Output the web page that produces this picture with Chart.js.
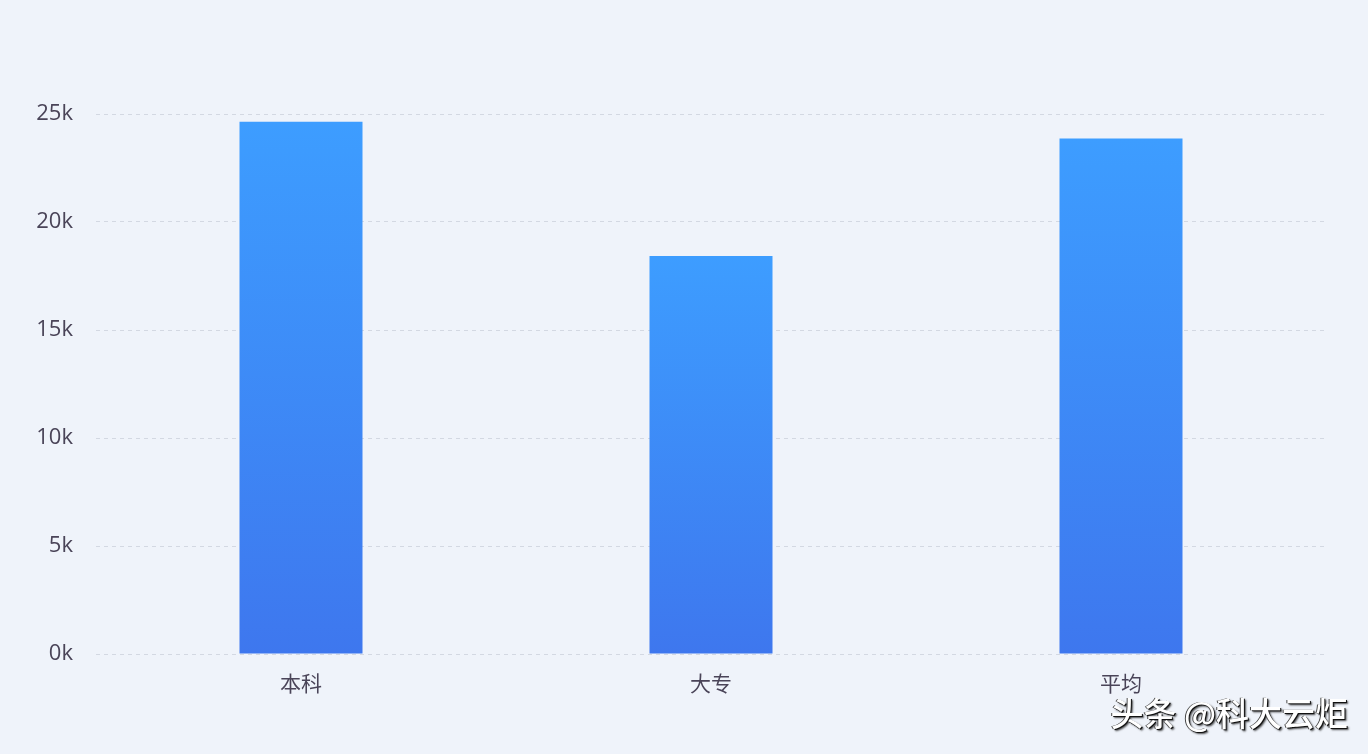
<!DOCTYPE html>
<html>
<head>
<meta charset="utf-8">
<script src="https://cdn.jsdelivr.net/npm/chart.js@4/dist/chart.umd.min.js"></script>
<style>
  html, body { margin: 0; padding: 0; background: #eff3fa; }
  #wrap { position: relative; width: 1368px; height: 754px; }
  #mark {
    position: absolute; right: 20px; bottom: 18px;
    font-family: "Noto Sans CJK SC", sans-serif; font-size: 33px; font-weight: 500;
    color: #ffffff; letter-spacing: 0px;
    text-shadow: 1px 1px 0 #111, -1px 0 0 #444, 2px 2px 2px rgba(0,0,0,0.7);
  }
</style>
</head>
<body>
<div id="wrap">
  <canvas id="myChart" width="1368" height="754"></canvas>
  <div id="mark">头条 @科大云炬</div>
</div>
<script>
const categories = ['本科', '大专', '平均'];
const salaries = [24640, 18430, 23870];
const yTicks = [0, 5000, 10000, 15000, 20000, 25000];

function barGradient(context) {
    const chart = context.chart;
    const area = chart.chartArea;
    if (!area || context.parsed === undefined) {
        return '#3d8af7';
    }
    const yScale = chart.scales.y;
    const top = yScale.getPixelForValue(context.parsed.y);
    const bottom = yScale.getPixelForValue(0);
    const g = chart.ctx.createLinearGradient(0, top, 0, bottom);
    g.addColorStop(0, '#3d9dff');
    g.addColorStop(1, '#3e77ee');
    return g;
}

const data = {
    labels: categories,
    datasets: [{
        label: '薪资',
        data: salaries,
        backgroundColor: barGradient,
        borderWidth: 0,
        barPercentage: 0.3,
        categoryPercentage: 1
    }]
};

const config = {
    type: 'bar',
    data: data,
    options: {
        responsive: false,
        animation: false,
        layout: {
            padding: { top: 114, right: 42, bottom: 0, left: 0 }
        },
        plugins: {
            legend: { display: false },
            tooltip: { enabled: false }
        },
        scales: {
            x: {
                grid: { display: false },
                border: { display: false },
                ticks: {
                    color: '#4a4458',
                    font: { family: '"Noto Sans CJK SC", sans-serif', size: 21 },
                    padding: 8
                },
                afterFit: function(scale) { scale.height = 100; }
            },
            y: {
                min: 0,
                max: 25000,
                afterBuildTicks: function(scale) {
                    scale.ticks = yTicks.map(v => ({ value: v }));
                },
                ticks: {
                    color: '#4a4458',
                    font: { family: '"Open Sans", sans-serif', size: 22 },
                    padding: 23,
                    callback: function(value) { return (value / 1000) + 'k'; }
                },
                grid: {
                    color: '#d3d8e2',
                    drawTicks: false,
                    lineWidth: 1
                },
                border: { display: false, dash: [4, 4] },
                afterFit: function(scale) { scale.width = 96; }
            }
        }
    }
};

const myChart = new Chart(
    document.getElementById('myChart'),
    config
);
</script>
</body>
</html>
